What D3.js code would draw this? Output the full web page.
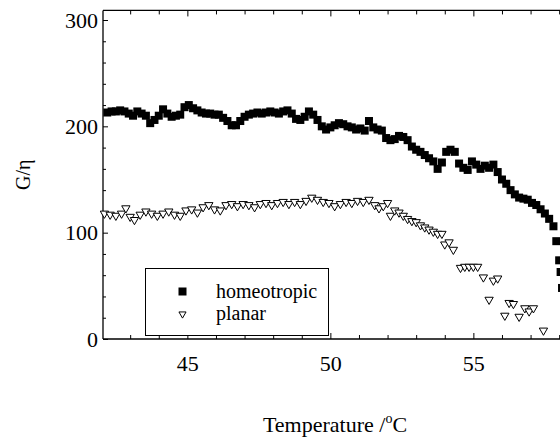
<!DOCTYPE html>
<html>
<head>
<meta charset="utf-8">
<script src="https://cdn.jsdelivr.net/npm/d3@7"></script>
<style>
  body { margin: 0; background: #fff; }
  svg { display: block; }
</style>
</head>
<body>
<div id="wrapper"></div>
<script>
// homeotropic: [temperature, G/eta]
const homeotropic = [
  [42.20, 213], [42.35, 214], [42.50, 214], [42.65, 215], [42.80, 214], [42.95, 212],
  [43.10, 210], [43.25, 214], [43.40, 212], [43.55, 210], [43.70, 203], [43.85, 206],
  [44.00, 210], [44.15, 216], [44.30, 212], [44.45, 209], [44.60, 210], [44.75, 211],
  [44.90, 218], [45.05, 220], [45.20, 217], [45.35, 215], [45.50, 213], [45.65, 212],
  [45.80, 212], [45.95, 211], [46.10, 211], [46.25, 208], [46.40, 205], [46.55, 201],
  [46.70, 201], [46.85, 205], [47.00, 209], [47.15, 211], [47.30, 212], [47.45, 213],
  [47.60, 212], [47.75, 213], [47.90, 214], [48.05, 213], [48.20, 212], [48.35, 214],
  [48.50, 215], [48.65, 212], [48.80, 207], [48.95, 206], [49.10, 209], [49.25, 214],
  [49.40, 211], [49.55, 206], [49.70, 200], [49.85, 197], [50.00, 199], [50.15, 201],
  [50.30, 203], [50.45, 202], [50.60, 200], [50.75, 199], [50.90, 197], [51.05, 198],
  [51.20, 196], [51.35, 205], [51.50, 199], [51.65, 197], [51.80, 196], [51.95, 189],
  [52.10, 187], [52.25, 188], [52.40, 191], [52.55, 190], [52.70, 187], [52.85, 181],
  [53.00, 178], [53.15, 176], [53.30, 173], [53.45, 170], [53.60, 167], [53.75, 160],
  [53.90, 166], [54.05, 176], [54.20, 178], [54.35, 176], [54.50, 165], [54.65, 161],
  [54.80, 159], [54.95, 167], [55.10, 164], [55.25, 160], [55.40, 163], [55.55, 161],
  [55.70, 164], [55.85, 157], [56.00, 150], [56.15, 146], [56.30, 140], [56.45, 136],
  [56.60, 133], [56.75, 132], [56.90, 131], [57.05, 128], [57.20, 126], [57.35, 122],
  [57.50, 118], [57.65, 113], [57.80, 106], [57.90, 92], [58.00, 74], [58.05, 63],
  [58.10, 48]
];

// planar: [temperature, G/eta]
const planar = [
  [42.10, 118], [42.30, 117], [42.50, 116], [42.70, 118], [42.85, 123], [43.00, 115],
  [43.15, 112], [43.35, 117], [43.55, 120], [43.75, 118], [43.95, 116], [44.15, 118],
  [44.35, 120], [44.55, 117], [44.75, 116], [44.95, 121], [45.15, 122], [45.35, 119],
  [45.55, 124], [45.75, 126], [45.95, 122], [46.15, 121], [46.35, 126], [46.55, 127],
  [46.75, 125], [46.95, 127], [47.15, 126], [47.35, 124], [47.55, 127], [47.75, 128],
  [47.95, 126], [48.15, 128], [48.35, 129], [48.55, 127], [48.75, 129], [48.95, 127],
  [49.15, 130], [49.35, 133], [49.55, 131], [49.75, 129], [49.95, 128], [50.15, 125],
  [50.35, 127], [50.55, 129], [50.75, 128], [50.95, 130], [51.15, 129], [51.35, 131],
  [51.55, 126], [51.70, 123], [51.85, 125], [52.00, 128], [52.10, 116], [52.25, 121],
  [52.40, 119], [52.55, 116], [52.70, 113], [52.85, 111], [53.00, 110], [53.15, 107],
  [53.30, 105], [53.45, 103], [53.60, 101], [53.75, 99], [53.90, 99], [54.00, 89],
  [54.15, 91], [54.30, 84], [54.55, 67], [54.70, 68], [54.85, 68], [55.00, 68],
  [55.15, 68], [55.35, 58], [55.55, 37], [55.70, 55], [55.85, 57], [56.10, 22],
  [56.25, 34], [56.40, 33], [56.60, 21], [56.80, 29], [56.95, 26], [57.10, 29],
  [57.45, 8]
];

const xMajorTicks = [45, 50, 55];
const xMinorTicks = [43, 44, 46, 47, 48, 49, 51, 52, 53, 54, 56, 57, 58];
const yMajorTicks = [0, 100, 200, 300];
const yMinorTicks = [20, 40, 60, 80, 120, 140, 160, 180, 220, 240, 260, 280];
const legendLabels = ["homeotropic", "planar"];

const width = 560;
const height = 438;
const font = "'Liberation Serif', 'Times New Roman', serif";

const x = d3.scaleLinear().domain([42.05, 58.4]).range([103, 103 + 16.35 * 28.6]);
const y = d3.scaleLinear().domain([0, 300]).range([339, 20]);
const yTop = 309;

const svg = d3.select("#wrapper")
  .append("svg")
    .attr("width", width)
    .attr("height", height)
    .style("font-family", font);

// frame
svg.append("line")
  .attr("x1", x.range()[0]).attr("x2", width)
  .attr("y1", y(0)).attr("y2", y(0))
  .attr("stroke", "#000").attr("stroke-width", 1.3);
svg.append("line")
  .attr("x1", x.range()[0]).attr("x2", width)
  .attr("y1", y(yTop)).attr("y2", y(yTop))
  .attr("stroke", "#000").attr("stroke-width", 1.3);
svg.append("line")
  .attr("x1", x.range()[0]).attr("x2", x.range()[0])
  .attr("y1", y(0)).attr("y2", y(yTop))
  .attr("stroke", "#000").attr("stroke-width", 1.3);

function styleAxis(g) {
  g.select(".domain").remove();
  g.selectAll(".tick line").attr("stroke", "#000").attr("stroke-width", 1);
  g.selectAll(".tick text")
    .attr("fill", "#000")
    .style("font-family", font)
    .style("font-size", "22px");
}

// bottom axis
svg.append("g")
  .attr("transform", `translate(0,${y(0)})`)
  .call(d3.axisBottom(x).tickValues(xMajorTicks).tickSize(-6).tickPadding(16).tickFormat(d3.format("d")))
  .call(styleAxis);
svg.append("g")
  .attr("transform", `translate(0,${y(0)})`)
  .call(d3.axisBottom(x).tickValues(xMinorTicks).tickSize(-4).tickFormat(""))
  .call(styleAxis);

// top axis
svg.append("g")
  .attr("transform", `translate(0,${y(yTop)})`)
  .call(d3.axisTop(x).tickValues(xMajorTicks).tickSize(-6).tickFormat(""))
  .call(styleAxis);
svg.append("g")
  .attr("transform", `translate(0,${y(yTop)})`)
  .call(d3.axisTop(x).tickValues(xMinorTicks).tickSize(-4).tickFormat(""))
  .call(styleAxis);

// left axis
svg.append("g")
  .attr("transform", `translate(${x.range()[0]},0)`)
  .call(d3.axisLeft(y).tickValues(yMajorTicks).tickSize(-5).tickPadding(5).tickFormat(d3.format("d")))
  .call(styleAxis);
svg.append("g")
  .attr("transform", `translate(${x.range()[0]},0)`)
  .call(d3.axisLeft(y).tickValues(yMinorTicks).tickSize(-3).tickFormat(""))
  .call(styleAxis);

// axis titles
const xTitle = svg.append("text")
  .attr("x", 335)
  .attr("y", 432)
  .attr("text-anchor", "middle")
  .style("font-size", "22px");
xTitle.append("tspan").text("Temperature /");
xTitle.append("tspan").attr("dy", -9).style("font-size", "14px").text("o");
xTitle.append("tspan").attr("dy", 9).text("C");

svg.append("text")
  .attr("transform", `translate(30,${(y(0) + y(yTop)) / 2}) rotate(-90)`)
  .attr("text-anchor", "middle")
  .style("font-size", "20px")
  .text("G/η");

// legend
const legend = svg.append("g");
legend.append("rect")
  .attr("x", 145.5).attr("y", 268.5)
  .attr("width", 183).attr("height", 67)
  .attr("fill", "#fff").attr("stroke", "#000").attr("stroke-width", 1);

const sq = 8;
const tri = d3.symbol().type(d3.symbolTriangle);

function triPath(size) {
  return tri.size(size)();
}

// data
svg.append("g")
  .selectAll("rect")
  .data(homeotropic)
  .join("rect")
    .attr("x", d => x(d[0]) - sq / 2)
    .attr("y", d => y(d[1]) - sq / 2)
    .attr("width", sq)
    .attr("height", sq)
    .attr("fill", "#000");

svg.append("g")
  .selectAll("path")
  .data(planar)
  .join("path")
    .attr("d", triPath(30))
    .attr("transform", d => `translate(${x(d[0])},${y(d[1])}) rotate(180)`)
    .attr("fill", "#fff")
    .attr("stroke", "#000")
    .attr("stroke-width", 1);

legend.append("rect")
  .attr("x", 182.5 - sq / 2).attr("y", 291.5 - sq / 2)
  .attr("width", sq).attr("height", sq)
  .attr("fill", "#000");
legend.append("path")
  .attr("d", triPath(22))
  .attr("transform", "translate(182.5,314) rotate(180)")
  .attr("fill", "#fff").attr("stroke", "#000").attr("stroke-width", 1);

legend.selectAll("text")
  .data(legendLabels)
  .join("text")
    .attr("x", 216)
    .attr("y", (d, i) => 298 + i * 22)
    .style("font-size", "20px")
    .text(d => d);
</script>
</body>
</html>
